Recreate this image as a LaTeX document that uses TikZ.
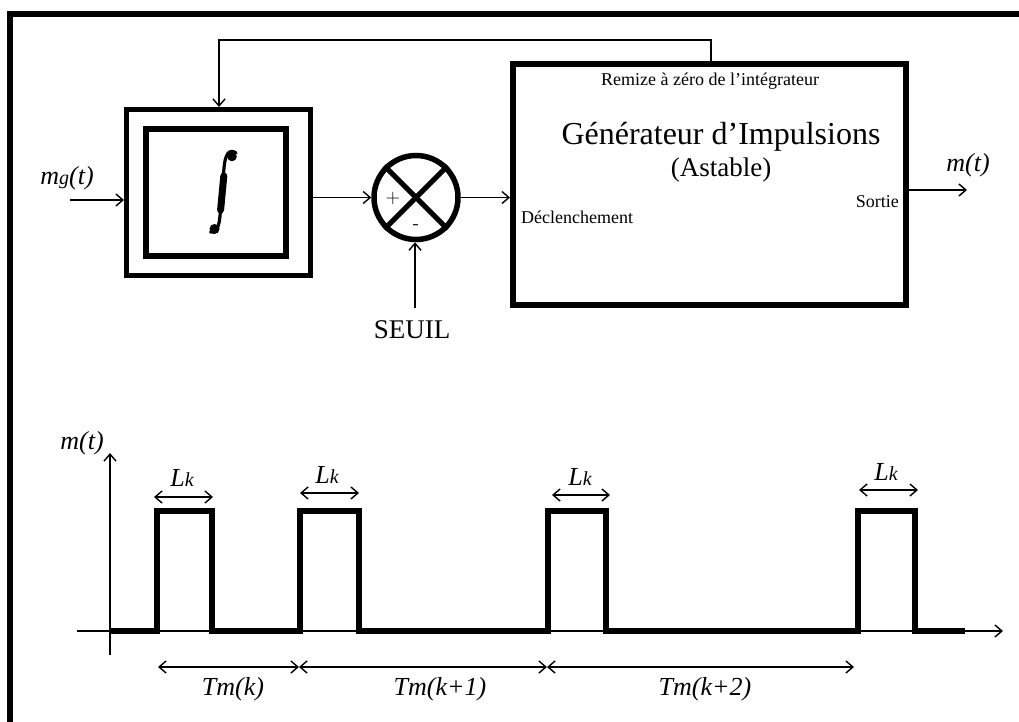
\documentclass[tikz,border=0pt]{standalone}
\usepackage{fontspec}
\setmainfont{Liberation Serif}
\usetikzlibrary{arrows.meta,calc}
\tikzset{
  arr/.style={line width=1.4pt,-{Straight Barb[length=7pt,width=12pt,line width=1.4pt]}},
  dimarr/.style={line width=1.4pt,{Straight Barb[length=7pt,width=12pt,line width=1.4pt]}-{Straight Barb[length=7pt,width=12pt,line width=1.4pt]}},
  blockbox/.style={draw,rectangle,inner sep=0pt},
  lab/.style={inner sep=0pt,font=\fontsize{26}{30}\selectfont\itshape},
  small/.style={inner sep=0pt,font=\fontsize{18}{21}\selectfont},
  pulse/.style={line width=6pt,line join=miter,line cap=butt},
}
\newcommand{\sm}[1]{{\fontsize{20}{20}\selectfont #1}}
\begin{document}
\begin{tikzpicture}[x=1pt,y=-1pt]
\useasboundingbox (0,0) rectangle (1019,722);
% frame
\draw[line width=6pt] (10,722) -- (10,14) -- (1019,14);

% blocks
\node[blockbox,line width=5pt,minimum width=184pt,minimum height=166pt] (intO) at (218.5,192.5) {};
\node[blockbox,line width=6.5pt,minimum width=140pt,minimum height=127pt] (intI) at (216,192.5) {};
% integral sign
\fill (232,156.5) circle (4.8pt);
\fill (214.5,229) circle (5pt);
\draw[line width=3.2pt,line cap=round] (236,153) .. controls (229,148) and (225,155) .. (224,168)
  -- (220,216) .. controls (219,227) and (216,234) .. (210.5,232);
\draw[line width=7pt,line cap=round] (223.8,176) -- (220.6,210);

\node[draw,circle,line width=5.5pt,minimum size=84pt,inner sep=0pt] (sum) at (416,197.5) {};
\draw[line width=5pt] (sum.north west) -- (sum.south east);
\draw[line width=5pt] (sum.north east) -- (sum.south west);
\node[inner sep=0pt,font=\fontsize{20}{22}\selectfont\sffamily] (plus) at (393,199) {+};
\node[inner sep=0pt,font=\fontsize{20}{22}\selectfont\sffamily] (minus) at (416,227) {-};

\node[blockbox,line width=6pt,minimum width=393pt,minimum height=241pt] (gen) at (709.5,184.5) {};
\node[small] (raz) at (710,81) {Remize à zéro de l’intégrateur};
\node[inner sep=0pt,font=\fontsize{32}{34}\selectfont] (gentitle) at (721,137) {Générateur d’Impulsions};
\node[inner sep=0pt,font=\fontsize{27}{30}\selectfont] (astable) at (721,170) {(Astable)};
\node[small,anchor=west] (decl) at (521,217) {Déclenchement};
\node[small,anchor=east] (sortie) at (899,202) {Sortie};

% labels
\node[lab] (mg) at (67,178) {m\sm{g}(t)};
\node[lab] (mout) at (968,165) {m(t)};
\node[inner sep=0pt,font=\fontsize{27}{30}\selectfont] (seuil) at (412,330) {SEUIL};

% connectors
\coordinate (mgin) at (70,200);
\draw[arr] (mgin) -- (mgin -| intO.west);
\draw[arr] (intO.east |- sum) -- (sum.west);
\draw[arr] (sum.east) -- (sum.east -| gen.west);
\coordinate (seuiltop) at (415,308);
\draw[arr] (seuiltop) -- (seuiltop |- sum.south);
\coordinate (fb) at (711,40);
\coordinate (fbi) at (219,40);
\draw[arr] (gen.north -| fb) -- (fb) -- (fbi) -- (fbi |- intO.north);
\coordinate (outend) at (967,190);
\draw[arr] (outend -| gen.east) -- (outend);

% ---- timing diagram
\coordinate (ytop) at (110,453);
\coordinate (ybot) at (110,655);
\coordinate (xl) at (77,631);
\coordinate (xr) at (1003,631);
\draw[arr] (ybot) -- (ytop);
\draw[arr] (xl) -- (xr);
\node[lab] (mt) at (82,443) {m(t)};

\draw[pulse] (110,631) -- (157,631) -- (157,511) -- (212,511) -- (212,631)
  -- (300,631) -- (300,511) -- (359,511) -- (359,631)
  -- (548,631) -- (548,511) -- (606,511) -- (606,631)
  -- (858,631) -- (858,511) -- (915,511) -- (915,631) -- (965,631);

% Lk arrows
\coordinate (l1a) at (154,497); \coordinate (l1b) at (213,497);
\coordinate (l2a) at (300,493); \coordinate (l2b) at (359,493);
\coordinate (l3a) at (552,495); \coordinate (l3b) at (610,495);
\coordinate (l4a) at (859,490); \coordinate (l4b) at (918,490);
\draw[dimarr] (l1a) -- (l1b);
\draw[dimarr] (l2a) -- (l2b);
\draw[dimarr] (l3a) -- (l3b);
\draw[dimarr] (l4a) -- (l4b);
\node[lab] (lk1) at (182,478) {L\sm{k}};
\node[lab] (lk2) at (327,475) {L\sm{k}};
\node[lab] (lk3) at (580,477) {L\sm{k}};
\node[lab] (lk4) at (886,472) {L\sm{k}};

% Tm arrows
\coordinate (t0) at (158,667);
\coordinate (t1) at (299,667);
\coordinate (t2) at (547,667);
\coordinate (t3) at (854,667);
\draw[dimarr] (t0) -- (t1);
\draw[dimarr] (t1) -- (t2);
\draw[dimarr] (t2) -- (t3);
\node[lab] (tm1) at (233,689) {Tm(k)};
\node[lab] (tm2) at (440,689) {Tm(k+1)};
\node[lab] (tm3) at (705,689) {Tm(k+2)};
\end{tikzpicture}
\end{document}
